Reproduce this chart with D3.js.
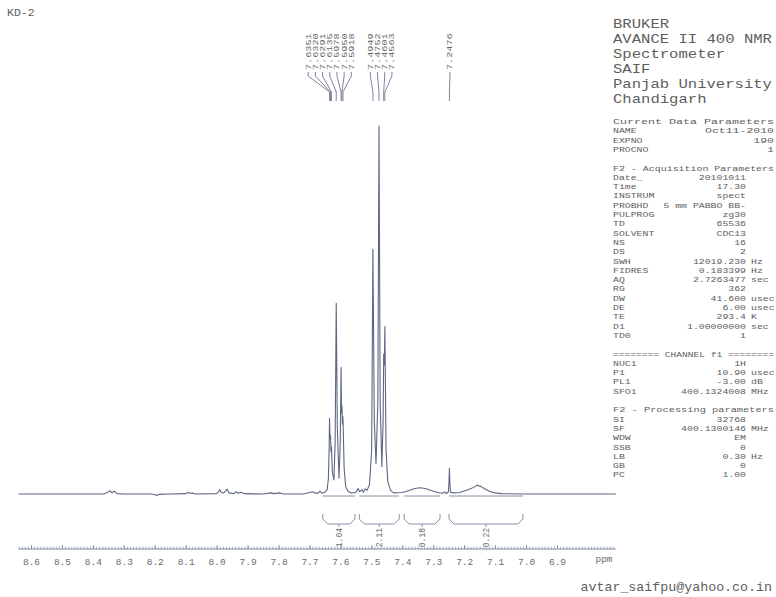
<!DOCTYPE html>
<html>
<head>
<meta charset="utf-8">
<script src="https://cdn.jsdelivr.net/npm/d3@7"></script>
<style>
  html, body { margin: 0; padding: 0; background: #fff; }
  svg { display: block; }
  text { font-family: "Liberation Mono", "DejaVu Sans Mono", monospace; }
</style>
</head>
<body>
<div id="chart"></div>
<script>
// ---- 1H NMR spectrum, sample KD-2 (CDCl3, 400 MHz) ----

// Traced spectrum: [chemical shift (ppm), relative intensity (tallest line = 100)]
const spectrum = [
  [8.640, 0.0], [8.500, 0.0], [8.365, 0.0], [8.352, 0.5], [8.345, 0.9], [8.338, 0.3],
  [8.331, 0.8], [8.322, 0.1], [8.300, 0.0], [8.210, 0.0], [8.200, -0.2], [8.193, -0.4],
  [8.186, -0.1], [8.150, 0.0], [8.100, 0.1], [8.092, 0.4], [8.085, 0.2], [8.078, 0.3],
  [8.070, 0.0], [8.000, 0.1], [7.994, 0.6], [7.990, 1.2], [7.985, 0.4], [7.977, 0.3],
  [7.970, 0.9], [7.966, 1.3], [7.960, 0.3], [7.945, 0.1], [7.937, 0.6], [7.930, 0.2],
  [7.920, 0.5], [7.912, 0.1], [7.850, 0.0], [7.825, 0.3], [7.815, 0.1], [7.795, 0.3],
  [7.785, 0.0], [7.720, 0.0], [7.690, 0.6], [7.682, 0.3], [7.672, 0.2], [7.666, 0.8],
  [7.660, 0.2], [7.650, 0.5], [7.643, 1.2], [7.639, 4.0], [7.6365, 12.0], [7.6351, 20.6],
  [7.6338, 15.0], [7.6320, 16.0], [7.6305, 11.5], [7.6291, 12.9], [7.6260, 6.0],
  [7.6210, 3.8], [7.6170, 14.0], [7.6135, 51.8], [7.6100, 18.0], [7.6045, 4.3],
  [7.6005, 14.0], [7.5978, 34.4], [7.5964, 22.0], [7.5950, 24.0], [7.5934, 19.0],
  [7.5918, 21.0], [7.5880, 7.0], [7.5830, 2.0], [7.5750, 0.7], [7.5650, 0.3],
  [7.5500, 0.4], [7.5430, 1.5], [7.5380, 0.6], [7.5310, 1.2], [7.5260, 0.5],
  [7.5200, 1.4], [7.5140, 1.0], [7.5060, 2.5], [7.4990, 12.0], [7.4949, 66.5],
  [7.4905, 20.0], [7.4850, 8.3], [7.4790, 25.0], [7.4752, 100.0], [7.4715, 25.0],
  [7.4660, 7.4], [7.4620, 20.0], [7.4601, 38.0], [7.4580, 35.0], [7.4563, 45.5],
  [7.4525, 12.0], [7.4470, 3.5], [7.4380, 1.0], [7.4280, 0.3], [7.4000, 0.4],
  [7.3800, 0.9], [7.3600, 1.5], [7.3430, 1.7], [7.3250, 1.5], [7.3050, 0.9],
  [7.2850, 0.4], [7.2700, 0.2], [7.2620, 0.6], [7.2570, 0.1], [7.2510, 0.6],
  [7.2490, 3.5], [7.2476, 7.0], [7.2462, 3.0], [7.2440, 0.5], [7.2350, 0.3],
  [7.2150, 0.4], [7.2000, 0.8], [7.1850, 1.2], [7.1700, 1.8], [7.1580, 2.4],
  [7.1450, 2.0], [7.1300, 1.2], [7.1150, 0.6], [7.1000, 0.3], [7.0800, 0.1],
  [7.0000, 0.0], [6.7100, 0.0]
];

// Picked peaks, grouped as they are labelled
const peakGroups = [
  [7.6351, 7.6320, 7.6291, 7.6135, 7.5978, 7.5950, 7.5918],
  [7.4949, 7.4752, 7.4601, 7.4563],
  [7.2476]
];

// Integration regions [from, to] in ppm and their integrals
const integralRegions = [[7.657, 7.553], [7.539, 7.410], [7.394, 7.278], [7.249, 7.010]];
const integralValues = ["1.04", "2.11", "0.18", "0.22"];

// Axis ticks (ppm)
const axisTicks = [8.6, 8.5, 8.4, 8.3, 8.2, 8.1, 8.0, 7.9, 7.8, 7.7, 7.6, 7.5, 7.4, 7.3, 7.2, 7.1, 7.0, 6.9];

// Parameter block text
const titleLines = ["BRUKER", "AVANCE II 400 NMR", "Spectrometer", "SAIF", "Panjab University", "Chandigarh"];
const currentParams = [["NAME", "Oct11-2010"], ["EXPNO", "190"], ["PROCNO", "1"]];
const acqParams = [
  ["Date_", "20101011", ""], ["Time", "17.30", ""], ["INSTRUM", "spect", ""],
  ["PROBHD", "5 mm PABBO BB-", ""], ["PULPROG", "zg30", ""], ["TD", "65536", ""],
  ["SOLVENT", "CDC13", ""], ["NS", "16", ""], ["DS", "2", ""],
  ["SWH", "12019.230", "Hz"], ["FIDRES", "0.183399", "Hz"], ["AQ", "2.7263477", "sec"],
  ["RG", "362", ""], ["DW", "41.600", "usec"], ["DE", "6.00", "usec"],
  ["TE", "293.4", "K"], ["D1", "1.00000000", "sec"], ["TD0", "1", ""]
];
const channelParams = [
  ["NUC1", "1H", ""], ["P1", "10.90", "usec"], ["PL1", "-3.00", "dB"], ["SFO1", "400.1324008", "MHz"]
];
const procParams = [
  ["SI", "32768", ""], ["SF", "400.1300146", "MHz"], ["WDW", "EM", ""], ["SSB", "0", ""],
  ["LB", "0.30", "Hz"], ["GB", "0", ""], ["PC", "1.00", ""]
];

// ---- drawing ----
const W = 776, H = 597;
const svg = d3.select("#chart").append("svg").attr("width", W).attr("height", H);
svg.append("rect").attr("width", W).attr("height", H).attr("fill", "#fff");

const lineColor = "#5d6684";
const textColor = "#5e5e5e";

const x = d3.scaleLinear().domain([8.6, 6.9]).range([31, 557]);
const y = d3.scaleLinear().domain([0, 100]).range([494, 126]);

// monospace text whose advance per character is fixed (cw px), independent of font size
function monoText(sel, str, fs, cw) {
  return sel.append("text").attr("font-size", fs)
    .attr("textLength", str.length * cw).attr("lengthAdjust", "spacingAndGlyphs")
    .attr("xml:space", "preserve").text(str);
}

// sample name
svg.append("text").attr("x", 7).attr("y", 16).attr("font-size", 11.5)
  .attr("fill", textColor).text("KD-2");

// spectrum trace
svg.append("path").datum(spectrum)
  .attr("fill", "none").attr("stroke", lineColor).attr("stroke-width", 1.1)
  .attr("stroke-linejoin", "round")
  .attr("d", d3.line().x(d => x(d[0])).y(d => y(d[1])));

// integration region markers under the baseline
svg.append("g").selectAll("line").data(integralRegions).join("line")
  .attr("x1", d => x(d[0])).attr("x2", d => x(d[1]))
  .attr("y1", y(0) + 2).attr("y2", y(0) + 2)
  .attr("stroke", "#8a90a4").attr("stroke-width", 1);

// peak labels with leader lines
const labelStep = 7.2;
const labelNudge = [-6.5, 1, 0.5];
const labelBottom = 70;
const gPeaks = svg.append("g");
peakGroups.forEach((grp, gi) => {
  const cx = d3.mean(grp, p => x(p)) + labelNudge[gi];
  grp.forEach((p, i) => {
    const lx = cx + (i - (grp.length - 1) / 2) * labelStep;
    const px = x(p);
    gPeaks.append("path")
      .attr("d", `M${lx},${labelBottom + 2} V${labelBottom + 6} L${px},${labelBottom + 22} V${labelBottom + 31}`)
      .attr("fill", "none").attr("stroke", "#707890").attr("stroke-width", 0.9);
    monoText(gPeaks, p.toFixed(4), 7, 6.1)
      .attr("transform", `translate(${lx + 2.5},${labelBottom}) rotate(-90)`)
      .attr("fill", "#666");
  });
});

// integral brackets and values
const gInt = svg.append("g");
integralRegions.forEach((r, i) => {
  const xa = x(r[0]), xb = x(r[1]), cx = (xa + xb) / 2;
  gInt.append("path")
    .attr("d", `M${xa},514 V519 L${xa + 5},524 H${xb - 5} L${xb},519 V514 M${cx},524 V527`)
    .attr("fill", "none").attr("stroke", "#7d849a").attr("stroke-width", 0.9);
  monoText(gInt, integralValues[i], 8.2, 4.8)
    .attr("transform", `translate(${cx + 2.8},528) rotate(-90)`)
    .attr("text-anchor", "end").attr("fill", "#666");
});

// ppm axis (ruler)
const axisY = 549;
const gAxis = svg.append("g").attr("transform", `translate(0,${axisY})`);
gAxis.append("line").attr("x1", x(8.64)).attr("x2", x(6.71))
  .attr("stroke", "#7d86a2").attr("stroke-width", 1);
const minorTicks = d3.range(864, 671, -1).map(v => v / 100);
gAxis.append("g").call(d3.axisTop(x).tickValues(minorTicks).tickSize(2.5).tickFormat(""))
  .call(g => g.select(".domain").remove())
  .call(g => g.selectAll("line").attr("stroke", "#8a93ad").attr("stroke-width", 0.7));
const majorAxis = d3.axisBottom(x).tickValues(axisTicks).tickSize(0).tickPadding(9)
  .tickFormat(d3.format(".1f"));
gAxis.append("g").call(majorAxis)
  .call(g => g.select(".domain").remove())
  .call(g => g.selectAll("text").attr("font-family", "Liberation Mono, monospace")
    .attr("font-size", 9.5).attr("fill", "#6a6a6a"));
gAxis.append("g").call(d3.axisTop(x).tickValues(axisTicks).tickSize(4).tickFormat(""))
  .call(g => g.select(".domain").remove())
  .call(g => g.selectAll("line").attr("stroke", "#7d86a2").attr("stroke-width", 0.9));
gAxis.append("text").attr("x", x(6.9) + 47).attr("y", 13)
  .attr("text-anchor", "middle").attr("font-size", 9.5).attr("fill", "#6a6a6a").text("ppm");

// parameter block
const px0 = 613, valRight = 746, unitLeft = 751, rowH = 9.3;
const gPar = svg.append("g").attr("fill", textColor);
titleLines.forEach((t, i) => {
  monoText(gPar, t, 13, 9.35).attr("x", px0).attr("y", 28 + i * 15);
});
let row = 0;
const rowY = () => 124 + row * rowH;
const cw = 5.9, fs = 8.1;
function header(t, w) {
  monoText(gPar, t, fs, w / t.length).attr("x", px0).attr("y", rowY());
  row++;
}
function params(list, right, vcw) {
  list.forEach(p => {
    const yy = rowY();
    monoText(gPar, p[0], fs, cw).attr("x", px0).attr("y", yy);
    monoText(gPar, p[1], fs, vcw).attr("x", right).attr("y", yy).attr("text-anchor", "end");
    if (p[2]) monoText(gPar, p[2], fs, cw).attr("x", unitLeft).attr("y", yy);
    row++;
  });
}
header("Current Data Parameters", 161);
params(currentParams, 774, 6.9);
row++;
header("F2 - Acquisition Parameters", 161);
params(acqParams, valRight, cw);
row++;
header("======== CHANNEL f1 ========", 161);
params(channelParams, valRight, cw);
row++;
header("F2 - Processing parameters", 161);
params(procParams, valRight, cw);

// contact line
svg.append("text").attr("x", 772).attr("y", 591).attr("text-anchor", "end")
  .attr("font-size", 13.3).attr("fill", textColor).text("avtar_saifpu@yahoo.co.in");
</script>
</body>
</html>
